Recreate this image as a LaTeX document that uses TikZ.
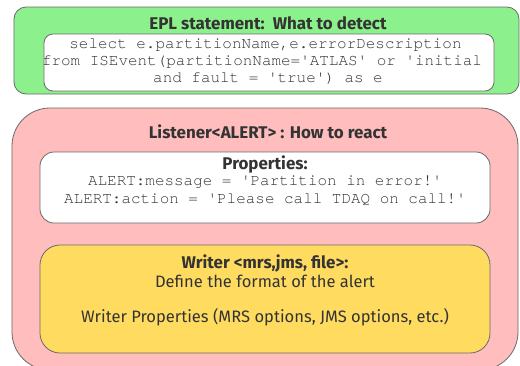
\documentclass[tikz,border=0pt]{standalone}
\usepackage{fontspec}
\setmainfont{Fira Sans}
\newfontfamily\monof{TeX Gyre Cursor}
\definecolor{greenbox}{HTML}{8CF08C}
\definecolor{pinkbox}{HTML}{FFBDBD}
\definecolor{yellowbox}{HTML}{FFDC60}
\definecolor{edgegray}{HTML}{6A6A6A}
\definecolor{txt}{HTML}{333333}
\begin{document}
\begin{tikzpicture}[x=1bp,y=-1bp,
  box/.style={draw=edgegray,line width=0.8bp,minimum width=#1,inner sep=0},
  ttl/.style={font=\fontsize{17}{20}\selectfont\bfseries,text=txt,inner sep=0},
  sans/.style={font=\fontsize{16.6}{20}\selectfont,text=txt,inner sep=0},
  mono/.style={font=\monof\fontsize{16}{17}\selectfont,text=txt,inner sep=0}]
\useasboundingbox (0,0) rectangle (520,365);
% green
\node[box=505bp,minimum height=87bp,fill=greenbox,rounded corners=12bp] (epl) at (266.5,50.5) {};
\node[ttl] (eplt) at (268,23) {EPL statement:\ \ What to detect};
\node[box=450bp,minimum height=57bp,fill=white,rounded corners=9bp] (eplw) at (269,62.5) {};
\node[mono] (e1) at (265.5,45) {select e.partitionName,e.errorDescription};
\node[mono] (e2) at (262,62) {from ISEvent(partitionName='ATLAS' or 'initial};
\node[mono] (e3) at (268,79) {and fault = 'true') as e};
% pink
\node[box=506bp,minimum height=262bp,fill=pinkbox,rounded corners=38bp] (lis) at (265,239) {};
\node[ttl] (list) at (268,132) {Listener<ALERT> : How to react};
\node[box=450bp,minimum height=71bp,fill=white,rounded corners=14bp] (prop) at (265,187.5) {};
\node[ttl] (propt) at (265,165) {Properties:};
\node[mono] (p1) at (265,182) {ALERT:message = 'Partition in error!'};
\node[mono] (p2) at (265,199) {ALERT:action = 'Please call TDAQ on call!'};
% yellow
\node[box=450bp,minimum height=108bp,fill=yellowbox,rounded corners=20bp] (wr) at (265,299) {};
\node[ttl] (w1) at (265,263) {Writer <mrs,jms, file>:};
\node[sans] (w2) at (265,281) {Define the format of the alert};
\node[sans] (w3) at (265,317) {Writer Properties (MRS options, JMS options, etc.)};
\end{tikzpicture}
\end{document}
